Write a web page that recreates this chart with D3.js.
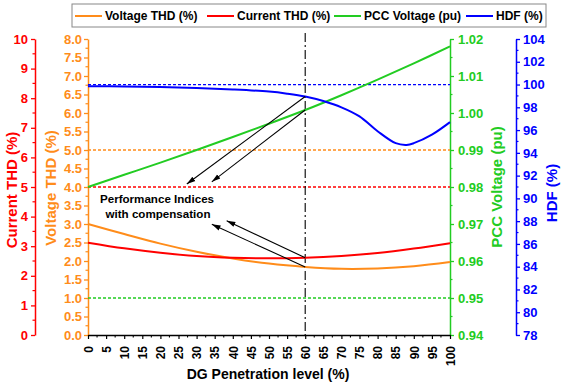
<!DOCTYPE html>
<html>
<head>
<meta charset="utf-8">
<script src="https://cdn.jsdelivr.net/npm/d3@7"></script>
<style>
  html, body { margin: 0; padding: 0; background: #fff; }
  svg { display: block; font-family: "Liberation Sans", Arial, sans-serif; font-weight: bold; }
</style>
</head>
<body>
<svg id="chart" width="563" height="384"></svg>
<script>
// DG penetration sweep (%)
const penetration = [0, 10, 20, 30, 40, 50, 60, 70, 80, 90, 100];
const voltageTHD  = [3.00, 2.73, 2.47, 2.25, 2.07, 1.93, 1.84, 1.79, 1.80, 1.86, 1.97];
const currentTHD  = [3.12, 2.93, 2.78, 2.67, 2.61, 2.59, 2.61, 2.67, 2.77, 2.92, 3.10];
const pccVoltage  = [0.980, 0.9833, 0.9866, 0.9900, 0.9935, 0.9971, 1.0008, 1.0048, 1.0090, 1.0134, 1.0180];

// HDF sampled more densely around its dip
const hdfPenetration = [0, 10, 20, 30, 40, 50, 55, 60, 65, 70, 75, 80, 85, 88, 90, 95, 100];
const hdf            = [99.85, 99.83, 99.78, 99.7, 99.57, 99.38, 99.2, 98.95, 98.55, 98.0, 97.2, 95.9, 94.85, 94.7, 94.85, 95.6, 96.7];

// Limits / reference levels
const voltageTHDLimit = 5.0;
const currentTHDLimit = 5.0;
const pccVoltageLimit = 0.95;
const hdfLimit = 100;
const operatingPoint = 60;

// Axis ticks
const xTicks = d3.range(0, 101, 5);
const currentTicks = d3.range(0, 11, 1);
const voltageTicks = d3.range(0, 8.01, 0.5);
const pccTicks = d3.range(0, 9).map(i => +(0.94 + i * 0.01).toFixed(2));
const hdfTicks = d3.range(78, 105, 2);

const legendItems = ["Voltage THD (%)", "Current THD (%)", "PCC Voltage (pu)", "HDF (%)"];
const colors = { v: "#ff8c1a", c: "#ff0000", p: "#22cc22", h: "#0000ff" };

const svg = d3.select("#chart");
const plotTop = 39, plotBottom = 335;
const x  = d3.scaleLinear([0, 100], [88, 450]);
const yV = d3.scaleLinear([0, 8], [plotBottom, plotTop]);
const yC = d3.scaleLinear([0, 10], [plotBottom, plotTop]);
const yP = d3.scaleLinear([0.94, 1.02], [plotBottom, plotTop]);
const yH = d3.scaleLinear([78, 104], [plotBottom, plotTop]);

function styleAxis(g, color) {
  g.selectAll("path.domain").attr("stroke", color).attr("stroke-width", 1.5);
  g.selectAll(".tick line").attr("stroke", color).attr("stroke-width", 1.3);
  g.selectAll(".tick text").attr("fill", color).attr("font-size", 13)
    .attr("font-family", "Liberation Sans, Arial, sans-serif").attr("font-weight", "bold");
}
function minorTicks(g, scale, values, len, color) {
  g.selectAll("line.minor").data(values).join("line").attr("class", "minor")
    .attr("x1", 0).attr("x2", len).attr("y1", d => scale(d)).attr("y2", d => scale(d))
    .attr("stroke", color).attr("stroke-width", 1.2);
}

// Current THD axis (outer left)
const gC = svg.append("g").attr("transform", "translate(35,0)")
  .call(d3.axisLeft(yC).tickValues(currentTicks).tickSize(4).tickSizeOuter(0).tickPadding(3).tickFormat(d3.format("d")));
styleAxis(gC, colors.c);
minorTicks(gC, yC, d3.range(0.5, 10, 1), -2.5, colors.c);

// Voltage THD axis (inner left)
const gV = svg.append("g").attr("transform", "translate(88,0)")
  .call(d3.axisLeft(yV).tickValues(voltageTicks).tickSize(4).tickSizeOuter(0).tickPadding(2).tickFormat(d3.format(".1f")));
styleAxis(gV, colors.v);
minorTicks(gV, yV, d3.range(0.25, 8, 0.5), -2.5, colors.v);

// PCC voltage axis (inner right)
const gP = svg.append("g").attr("transform", "translate(450,0)")
  .call(d3.axisRight(yP).tickValues(pccTicks).tickSize(4).tickSizeOuter(0).tickPadding(4).tickFormat(d3.format(".2f")));
styleAxis(gP, colors.p);
minorTicks(gP, yP, d3.range(0, 8).map(i => 0.945 + i * 0.01), 2.5, colors.p);

// HDF axis (outer right)
const gH = svg.append("g").attr("transform", "translate(516,0)")
  .call(d3.axisRight(yH).tickValues(hdfTicks).tickSize(4).tickSizeOuter(0).tickPadding(3).tickFormat(d3.format("d")));
styleAxis(gH, colors.h);
minorTicks(gH, yH, d3.range(79, 104, 2), 2.5, colors.h);

// X axis
const gX = svg.append("g").attr("transform", `translate(0,${plotBottom})`)
  .call(d3.axisBottom(x).tickValues(xTicks).tickSize(4).tickSizeOuter(0));
gX.selectAll("path.domain").attr("stroke", "#000").attr("stroke-width", 1.5);
gX.selectAll(".tick line").attr("stroke", "#000").attr("stroke-width", 1.2);
gX.selectAll(".tick text").attr("fill", "#000").attr("font-size", 12)
  .attr("font-family", "Liberation Sans, Arial, sans-serif").attr("font-weight", "bold")
  .attr("transform", "rotate(-90)").attr("text-anchor", "end")
  .attr("x", -11).attr("y", 0).attr("dy", "0.35em");
gX.selectAll("line.minor").data(d3.range(2.5, 100, 5)).join("line").attr("class", "minor")
  .attr("x1", d => x(d)).attr("x2", d => x(d)).attr("y1", 0).attr("y2", 2.5)
  .attr("stroke", "#000").attr("stroke-width", 1.1);

// Axis titles
function vTitle(tx, ty, text, color) {
  svg.append("text").attr("transform", `translate(${tx},${ty}) rotate(-90)`)
    .attr("text-anchor", "middle").attr("font-size", 15).attr("fill", color).text(text);
}
vTitle(17, 190, "Current THD (%)", colors.c);
vTitle(56, 188, "Voltage THD (%)", colors.v);
vTitle(502, 187, "PCC Voltage (pu)", colors.p);
vTitle(557, 193, "HDF (%)", colors.h);
svg.append("text").attr("x", 268).attr("y", 379).attr("text-anchor", "middle")
  .attr("font-size", 14).attr("fill", "#000").text("DG Penetration level (%)");

// Reference (limit) lines
function hRef(scale, v, color) {
  svg.append("line").attr("x1", x(0)).attr("x2", x(100)).attr("y1", scale(v)).attr("y2", scale(v))
    .attr("stroke", color).attr("stroke-width", 1.3).attr("stroke-dasharray", "3,2");
}
hRef(yH, hdfLimit, colors.h);
hRef(yV, voltageTHDLimit, colors.v);
hRef(yC, currentTHDLimit, colors.c);
hRef(yP, pccVoltageLimit, colors.p);

// Operating point marker line
svg.append("line").attr("x1", x(operatingPoint)).attr("x2", x(operatingPoint))
  .attr("y1", plotTop - 6).attr("y2", plotBottom)
  .attr("stroke", "#000").attr("stroke-width", 1.1).attr("stroke-dasharray", "9,3,2,3");

// Curves
function curve(xs, ys, scale, color) {
  const line = d3.line().x((d, i) => x(xs[i])).y(d => scale(d)).curve(d3.curveCatmullRom.alpha(0.5));
  svg.append("path").datum(ys).attr("d", line).attr("fill", "none")
    .attr("stroke", color).attr("stroke-width", 2);
}
curve(penetration, pccVoltage, yP, colors.p);
curve(hdfPenetration, hdf, yH, colors.h);
curve(penetration, voltageTHD, yV, colors.v);
curve(penetration, currentTHD, yC, colors.c);

// Annotation arrows (start at operating-point values, end near the caption)
svg.append("defs").append("marker").attr("id", "arrow")
  .attr("viewBox", "0 -4 10 8").attr("refX", 10).attr("refY", 0)
  .attr("markerUnits", "userSpaceOnUse").attr("markerWidth", 9).attr("markerHeight", 7)
  .attr("orient", "auto")
  .append("path").attr("d", "M0,-3L10,0L0,3Z").attr("fill", "#000");

const idx = penetration.indexOf(operatingPoint);
const hIdx = hdfPenetration.indexOf(operatingPoint);
const arrows = [
  { from: [x(operatingPoint), yH(hdf[hIdx])],          to: [x(27.3), yV(4.08)] },
  { from: [x(operatingPoint), yP(pccVoltage[idx])],    to: [x(34.2), yV(4.14)] },
  { from: [x(operatingPoint), yC(currentTHD[idx])],    to: [x(38.3), yV(3.09)] },
  { from: [x(operatingPoint), yV(voltageTHD[idx])],    to: [x(34.2), yV(2.99)] }
];
svg.selectAll("line.arrow").data(arrows).join("line").attr("class", "arrow")
  .attr("x1", d => d.from[0]).attr("y1", d => d.from[1])
  .attr("x2", d => d.to[0]).attr("y2", d => d.to[1])
  .attr("stroke", "#000").attr("stroke-width", 1.1).attr("marker-end", "url(#arrow)");

const caption = svg.append("text").attr("text-anchor", "middle").attr("font-size", 11.6).attr("fill", "#000");
caption.append("tspan").attr("x", 157).attr("y", 203).text("Performance Indices");
caption.append("tspan").attr("x", 158).attr("y", 218).text("with compensation");

// Legend
const lg = svg.append("g");
lg.append("rect").attr("x", 72).attr("y", 4).attr("width", 474).attr("height", 23)
  .attr("fill", "#fff").attr("stroke", "#888").attr("stroke-width", 1);
const legendColors = [colors.v, colors.c, colors.p, colors.h];
const legendX = [75, 207, 334, 466];
legendItems.forEach((name, i) => {
  lg.append("line").attr("x1", legendX[i]).attr("x2", legendX[i] + 27).attr("y1", 16).attr("y2", 16)
    .attr("stroke", legendColors[i]).attr("stroke-width", 2);
  lg.append("text").attr("x", legendX[i] + 30).attr("y", 20).attr("font-size", 12)
    .attr("fill", "#000").text(name);
});
</script>
</body>
</html>
